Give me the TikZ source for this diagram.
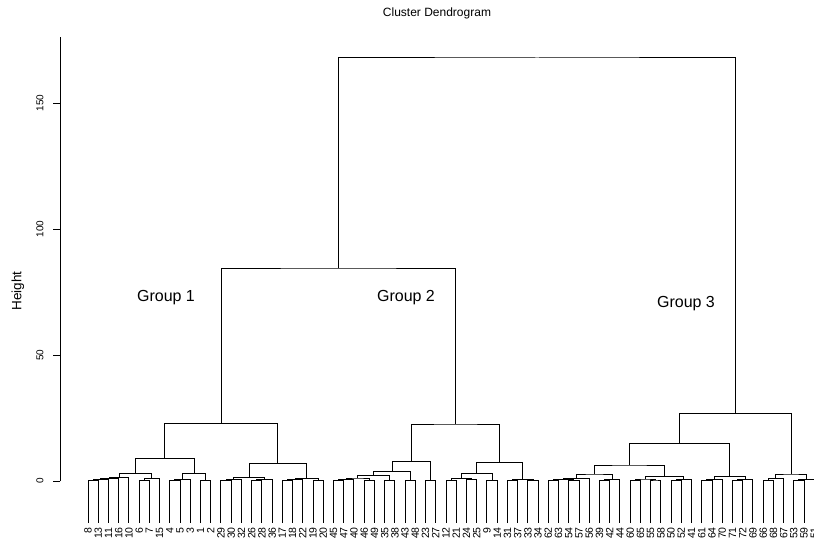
\documentclass[tikz,border=0pt]{standalone}
\usepackage{fontspec}
\setmainfont{Liberation Sans}
\usetikzlibrary{calc}
\newcommand\mrg[4]{%
  \path let \p1=(#2),\p2=(#3) in coordinate (#1) at ({(\x1+\x2)/2},{-#4pt});
  \draw[branch] (#2) |- (#1) -| (#3);}
\begin{document}
\begin{tikzpicture}[x=1pt,y=-1pt,
  branch/.style={line width=1pt,black},
  leaflab/.style={rotate=90,anchor=east,inner sep=0pt,font=\fontsize{10.5}{10.5}\selectfont},
  ticklab/.style={rotate=90,inner sep=0pt,font=\fontsize{10}{10}\selectfont},
  grp/.style={inner sep=0pt,font=\fontsize{16}{16}\selectfont},
  axlab/.style={rotate=90,inner sep=0pt,font=\fontsize{13.5}{13.5}\selectfont},
  ttl/.style={inner sep=0pt,font=\fontsize{12}{12}\selectfont}]
\useasboundingbox (0,0) rectangle (814,551);
\clip (0,0) rectangle (814,551);
\fill[white] (0,0) rectangle (814,551);
% leaves
\foreach \lab [count=\i] in {8,13,11,16,10,6,7,15,4,5,3,1,2,29,30,32,26,28,36,17,18,22,19,20,45,47,40,46,49,35,38,43,48,23,27,12,21,24,25,9,14,31,37,33,34,62,63,54,57,56,39,42,44,60,65,55,58,50,52,41,61,64,70,71,72,69,66,68,67,53,59,51}{
  \coordinate (l\lab) at ({88+(\i-1)*10.23},523);
  \node[leaflab] (t\lab) at ({88+(\i-1)*10.23},527) {\lab};
}
% group 1
\mrg{a1}{l8}{l13}{480.3}
\mrg{a2}{a1}{l11}{479.8}
\mrg{a3}{a2}{l16}{478.8}
\mrg{a4}{a3}{l10}{477.7}
\mrg{a5}{l6}{l7}{480.5}
\mrg{a6}{a5}{l15}{478.8}
\mrg{a7}{a4}{a6}{473.3}
\mrg{a8}{l4}{l5}{480.5}
\mrg{a9}{a8}{l3}{479.5}
\mrg{a10}{l1}{l2}{480.2}
\mrg{a11}{a9}{a10}{473.5}
\mrg{a12}{a7}{a11}{458.7}
\mrg{b1}{l29}{l30}{480.5}
\mrg{b2}{b1}{l32}{479.5}
\mrg{b3}{l26}{l28}{480.3}
\mrg{b4}{b3}{l36}{479.3}
\mrg{b5}{b2}{b4}{477.5}
\mrg{b6}{l17}{l18}{480.3}
\mrg{b7}{b6}{l22}{479.5}
\mrg{b8}{l19}{l20}{480.2}
\mrg{b9}{b7}{b8}{478.7}
\mrg{b10}{b5}{b9}{463.3}
\mrg{G1}{a12}{b10}{423.3}
% group 2
\mrg{c1}{l45}{l47}{480.5}
\mrg{c2}{c1}{l40}{479.3}
\mrg{c3}{l46}{l49}{480.3}
\mrg{c4}{c2}{c3}{478.0}
\mrg{c5}{l35}{l38}{480.3}
\mrg{c6}{c4}{c5}{475.7}
\mrg{c7}{l43}{l48}{480.2}
\mrg{c8}{c6}{c7}{471.8}
\mrg{c9}{l23}{l27}{480.2}
\mrg{c10}{c8}{c9}{461.7}
\mrg{d1}{l12}{l21}{480.3}
\mrg{d2}{l24}{l25}{479.8}
\mrg{d3}{d1}{d2}{478.3}
\mrg{d4}{l9}{l14}{480.2}
\mrg{d5}{d3}{d4}{473.3}
\mrg{d6}{l31}{l37}{480.3}
\mrg{d7}{l33}{l34}{480.2}
\mrg{d8}{d6}{d7}{479.3}
\mrg{d9}{d5}{d8}{462.3}
\mrg{G2}{c10}{d9}{424}
\mrg{G12}{G1}{G2}{268}
% group 3
\mrg{e1}{l62}{l63}{480.5}
\mrg{e2}{l54}{l57}{480.3}
\mrg{e3}{e1}{e2}{479.3}
\mrg{e4}{e3}{l56}{478.3}
\mrg{e5}{l39}{l42}{480.3}
\mrg{e6}{e5}{l44}{479.3}
\mrg{e7}{e4}{e6}{474}
\mrg{f1}{l60}{l65}{480.3}
\mrg{f2}{l55}{l58}{480.0}
\mrg{f3}{f1}{f2}{479.0}
\mrg{f4}{l50}{l52}{480.3}
\mrg{f5}{f4}{l41}{479.5}
\mrg{f6}{f3}{f5}{476.7}
\mrg{f7}{e7}{f6}{465}
\mrg{g1}{l61}{l64}{480.8}
\mrg{g2}{g1}{l70}{479.3}
\mrg{g3}{l71}{l72}{480.2}
\mrg{g4}{g3}{l69}{479.5}
\mrg{g5}{g2}{g4}{476.7}
\mrg{g6}{f7}{g5}{443.3}
\mrg{h1}{l66}{l68}{480.3}
\mrg{h2}{h1}{l67}{478.3}
\mrg{h3}{l53}{l59}{480.3}
\mrg{h4}{h3}{l51}{479.5}
\mrg{h5}{h2}{h4}{474}
\mrg{G3}{g6}{h5}{413.3}
\mrg{root}{G12}{G3}{58}
% axis
\coordinate (ax0) at (60,481);
\coordinate (axtop) at (60,37);
\draw[branch] (ax0) -- (axtop);
\foreach \v/\yy in {0/481,50/355,100/229,150/103}{
  \coordinate (tk\v) at (60,\yy);
  \coordinate (tke\v) at (53,\yy);
  \draw[branch] (tk\v) -- (tke\v);
  \node[ticklab] (tl\v) at (40,\yy) {\v};
}
\node[axlab] (ylab) at (18,291) {Height};
\node[ttl] (title) at (437,13) {Cluster Dendrogram};
\node[grp] (grp1) at (166,298) {Group 1};
\node[grp] (grp2) at (406,298) {Group 2};
\node[grp] (grp3) at (686,304) {Group 3};
\end{tikzpicture}
\end{document}
